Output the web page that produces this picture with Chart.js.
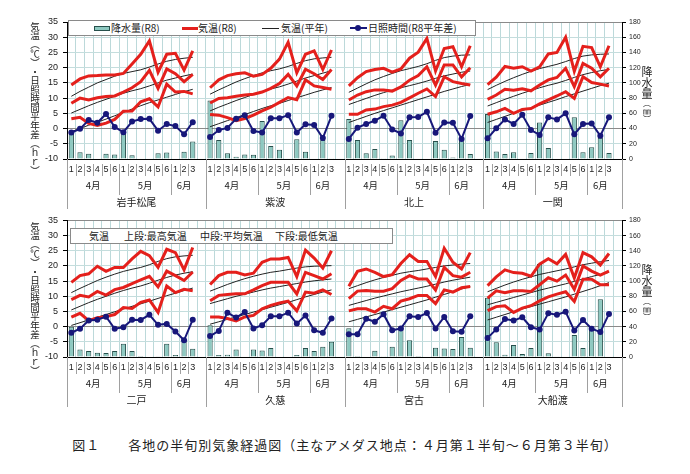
<!DOCTYPE html>
<html lang="ja">
<head>
<meta charset="utf-8">
<title>各地の半旬別気象経過図</title>
<script src="https://cdn.jsdelivr.net/npm/chart.js@4.4.1/dist/chart.umd.min.js"></script>
<style>
  html, body { margin: 0; padding: 0; background: #fff; }
  #page { position: relative; width: 690px; height: 474px; overflow: hidden;
          font-family: "Noto Sans CJK JP", sans-serif; color: #222; }
  canvas { position: absolute; left: 0; }
  .box { position: absolute; background: #fff; border: 1px solid #8a8a8a; box-sizing: border-box; }
  .lbl { position: absolute; font-size: 10px; line-height: 14px; white-space: nowrap; }
  .sw { position: absolute; }
  .vt { position: absolute; width: 14px; text-align: center; }
  .vt div { white-space: nowrap; overflow: visible; }
  #caption { position: absolute; left: 0; top: 436px; width: 690px; text-align: center;
             font-size: 13px; line-height: 18px; letter-spacing: 1px; }
</style>
</head>
<body>
<div id="page">
  <canvas id="row1" width="690" height="210" style="top:0"></canvas>
  <canvas id="row2" width="690" height="210" style="top:210px"></canvas>

  <!-- 凡例 -->
  <div class="box" style="left:68px; top:20px; width:408px; height:16px;"></div>
  <div class="sw" style="left:94px; top:26px; width:16px; height:5px; background:#8ec9c1; border:1px solid #27504c; box-sizing:border-box;"></div>
  <div class="lbl" style="left:111px; top:21px;">降水量(R8)</div>
  <div class="sw" style="left:182px; top:27px; width:16px; height:3px; background:#e4201c;"></div>
  <div class="lbl" style="left:198px; top:21px;">気温(R8)</div>
  <div class="sw" style="left:262px; top:28px; width:17px; height:1px; background:#222;"></div>
  <div class="lbl" style="left:281px; top:21px;">気温(平年)</div>
  <div class="sw" style="left:350px; top:27px; width:17px; height:2px; background:#17177a;"></div>
  <div class="sw" style="left:355px; top:25px; width:6px; height:6px; border-radius:50%; background:#17177a;"></div>
  <div class="lbl" style="left:368px; top:21px;">日照時間(R8平年差)</div>

  <div class="box" style="left:70px; top:228px; width:323px; height:16px;"></div>
  <div class="lbl" style="left:89px; top:229px;">気温</div>
  <div class="lbl" style="left:124px; top:229px;">上段:最高気温</div>
  <div class="lbl" style="left:200px; top:229px;">中段:平均気温</div>
  <div class="lbl" style="left:275px; top:229px;">下段:最低気温</div>

  <div id="caption">図１　　各地の半旬別気象経過図（主なアメダス地点：４月第１半旬～６月第３半旬）</div>
</div>

<script>
const stations = ['岩手松尾', '紫波', '北上', '一関', '二戸', '久慈', '宮古', '大船渡'];
const halfLabels = ['1', '2', '3', '4', '5', '6', '1', '2', '3', '4', '5', '6', '1', '2', '3'];
const months = ['4月', '5月', '6月'];
const monthLen = [6, 6, 3];
const tempTicks = [-10, 35, 5];
const rainTicks = [0, 180, 20];
const leftTitle = '気温︵℃︶・日照時間平年差︵ｈｒ︶';
const rightTitle = '降水量';
const rightUnit = '︵㎜︶';

// 降水量(R8) mm
const precip = [
  [37, 9, 7, 0, 7, 6, 36, 5, 0, 0, 7.5, 8.5, 0, 9.5, 23],
  [77, 25, 7.5, 3, 6, 5.5, 50, 17, 12, 0, 26, 9.6, 0, 25, 1],
  [52.5, 25, 7.5, 13, 1, 4.5, 51, 25, 0.5, 0, 23.5, 12, 2, 25, 6.5],
  [59, 10, 6.6, 9, 0, 8, 48, 14.5, 0, 0, 55, 9, 15.5, 28, 8],
  [40, 10, 7.8, 5.7, 5.2, 7.8, 17.5, 7.8, 1.3, 0, 0.4, 17.5, 2.6, 24, 11],
  [42, 2.5, 3, 10, 0, 10, 8.5, 12, 0, 0, 2.5, 12, 8, 13.5, 20],
  [38, 1.2, 0, 8.2, 0.3, 13.4, 37.4, 22, 1.2, 0, 12.1, 11.2, 10.4, 26.5, 12.1],
  [78, 19.5, 3, 15.8, 4, 12, 123, 5, 1, 0, 29, 12, 36, 76, 0]
];

// 気温(R8) 最高
const maxTemp = [
  [14.3, 16.3, 17.3, 17.4, 17.6, 17.6, 18.1, 21.2, 24.4, 28.8, 18.5, 24.4, 24.7, 19.2, 25.5],
  [13.4, 16.0, 17.4, 18.0, 18.3, 17.2, 17.8, 19.8, 22.8, 28.3, 18.3, 24.4, 25.5, 19.4, 25.8],
  [14.0, 16.7, 18.7, 19.4, 19.8, 18.5, 19.6, 23.1, 25.1, 29.6, 18.9, 26.3, 26.9, 20.3, 27.2],
  [14.4, 16.9, 20.4, 19.8, 20.3, 18.9, 20.3, 24.5, 25.0, 30.0, 18.8, 27.0, 26.6, 20.3, 27.2],
  [14.6, 16.8, 17.4, 19.9, 18.2, 19.5, 19.5, 22.3, 24.8, 23.4, 19.5, 25.5, 24.4, 18.7, 26.1],
  [13.9, 16.8, 17.9, 17.9, 17.0, 17.6, 21.2, 22.3, 22.3, 22.8, 16.5, 25.2, 22.6, 19.3, 25.0],
  [13.3, 18.2, 19.0, 17.9, 16.5, 17.1, 20.8, 23.7, 21.5, 21.5, 16.5, 25.8, 21.2, 19.0, 24.4],
  [13.5, 16.4, 18.7, 17.8, 17.6, 16.6, 20.6, 22.4, 20.7, 23.8, 16.0, 24.4, 23.0, 20.3, 24.1]
];

// 気温(R8) 平均
const meanTemp = [
  [8.3, 10.0, 9.4, 10.1, 10.5, 10.7, 12.0, 13.4, 15.4, 19.1, 13.2, 19.6, 18.0, 15.4, 17.8],
  [8.4, 9.9, 10.1, 10.6, 11.0, 11.3, 12.0, 13.2, 14.8, 17.8, 14.0, 19.5, 18.0, 16.1, 19.4],
  [9.4, 11.0, 12.1, 12.7, 12.7, 12.3, 13.7, 15.9, 17.4, 20.3, 14.3, 20.9, 20.9, 17.0, 20.0],
  [9.6, 11.0, 12.9, 12.6, 13.1, 12.4, 14.3, 16.0, 16.8, 19.8, 13.8, 21.4, 19.8, 17.0, 19.8],
  [8.9, 10.3, 9.8, 11.6, 10.4, 12.2, 12.9, 14.2, 15.4, 16.6, 13.1, 18.3, 16.8, 15.2, 18.0],
  [8.5, 10.3, 10.6, 10.8, 10.8, 12.1, 13.5, 14.6, 14.6, 14.6, 10.8, 17.9, 16.8, 15.7, 17.4],
  [9.2, 11.7, 11.9, 11.7, 11.7, 12.5, 15.2, 16.8, 15.7, 15.7, 12.1, 19.5, 16.8, 16.3, 17.9],
  [9.4, 11.8, 11.2, 11.8, 11.8, 11.6, 13.8, 16.1, 15.0, 17.0, 12.3, 20.0, 18.3, 17.0, 18.3]
];

// 気温(R8) 最低
const minTemp = [
  [3.2, 3.7, 1.7, 1.0, 1.8, 3.0, 5.7, 5.8, 8.8, 9.8, 7.1, 14.6, 12.0, 12.2, 11.4],
  [4.6, 4.4, 3.6, 2.6, 3.3, 4.4, 5.8, 7.0, 8.6, 10.2, 9.5, 16.0, 14.0, 13.5, 12.9],
  [4.7, 4.7, 6.1, 6.4, 7.2, 7.7, 8.6, 10.1, 11.6, 13.0, 10.5, 17.0, 15.4, 14.8, 14.3],
  [4.7, 5.5, 6.6, 5.0, 6.3, 6.6, 8.1, 9.4, 10.7, 12.1, 9.9, 17.0, 15.1, 14.6, 14.0],
  [3.1, 4.4, 2.0, 2.9, 3.3, 4.0, 6.3, 6.0, 8.0, 8.8, 4.7, 13.4, 11.2, 12.3, 11.8],
  [3.2, 3.2, 2.7, 1.9, 3.2, 3.7, 5.9, 7.0, 7.8, 8.4, 5.2, 11.4, 11.0, 12.1, 10.6],
  [5.2, 5.9, 5.9, 4.8, 6.7, 5.9, 8.4, 9.2, 10.3, 10.3, 7.6, 12.1, 11.4, 12.8, 13.2],
  [5.3, 6.6, 6.9, 4.7, 6.1, 6.9, 8.5, 9.8, 10.7, 11.5, 8.3, 15.6, 15.6, 13.8, 13.8]
];

// 気温(平年) 最高・平均・最低
const normMax = [
  [10.6, 12.2, 13.6, 15.0, 16.1, 17.2, 18.1, 18.7, 19.3, 20.2, 21.2, 22.1, 22.7, 23.1, 23.4],
  [11.3, 12.7, 14.0, 15.3, 16.4, 17.4, 18.3, 19.0, 19.6, 20.4, 21.4, 22.3, 22.9, 23.2, 23.4],
  [11.9, 13.3, 14.7, 16.0, 17.1, 18.1, 19.0, 19.7, 20.4, 21.3, 22.4, 23.3, 23.8, 24.1, 24.2],
  [12.8, 14.2, 15.5, 16.7, 17.8, 18.8, 19.7, 20.4, 21.1, 22.0, 23.0, 23.8, 24.2, 24.4, 24.5],
  [11.2, 12.6, 13.9, 15.2, 16.3, 17.3, 18.2, 18.9, 19.5, 20.4, 21.5, 22.4, 23.0, 23.3, 23.5],
  [11.7, 12.8, 13.9, 14.9, 15.8, 16.6, 17.3, 17.9, 18.3, 18.8, 19.3, 19.7, 19.9, 20.0, 20.1],
  [12.5, 13.5, 14.5, 15.4, 16.2, 16.9, 17.6, 18.1, 18.5, 19.0, 19.5, 20.0, 20.3, 20.6, 20.8],
  [11.5, 12.6, 13.7, 14.7, 15.6, 16.4, 17.2, 17.8, 18.4, 19.0, 19.7, 20.4, 20.9, 21.4, 21.8]
];
const normMean = [
  [5.1, 6.3, 7.5, 8.6, 9.6, 10.6, 11.6, 12.4, 13.1, 14.0, 15.0, 15.9, 16.6, 17.3, 17.9],
  [5.8, 7.0, 8.1, 9.2, 10.2, 11.2, 12.2, 13.0, 13.7, 14.6, 15.6, 16.6, 17.4, 18.2, 19.0],
  [7.9, 8.9, 9.9, 10.9, 11.8, 12.6, 13.4, 14.1, 14.8, 15.6, 16.5, 17.3, 17.9, 18.5, 18.9],
  [7.4, 8.5, 9.6, 10.6, 11.6, 12.5, 13.4, 14.2, 14.9, 15.8, 16.8, 17.7, 18.4, 19.0, 19.4],
  [5.5, 6.7, 7.9, 9.0, 10.0, 11.0, 11.9, 12.7, 13.4, 14.3, 15.3, 16.2, 17.0, 17.6, 18.1],
  [7.6, 8.4, 9.2, 10.0, 10.7, 11.4, 12.1, 12.7, 13.2, 13.7, 14.2, 14.7, 15.1, 15.4, 15.7],
  [7.0, 7.8, 8.6, 9.4, 10.1, 10.8, 11.5, 12.1, 12.7, 13.3, 14.0, 14.7, 15.3, 15.8, 16.3],
  [7.2, 8.0, 8.8, 9.6, 10.4, 11.2, 12.0, 12.7, 13.4, 14.1, 14.9, 15.7, 16.5, 17.2, 17.9]
];
const normMin = [
  [-1.0, 0.0, 1.1, 2.1, 3.1, 4.2, 5.3, 6.4, 7.5, 8.5, 9.4, 10.3, 11.2, 12.1, 12.9],
  [0.6, 1.6, 2.6, 3.6, 4.6, 5.6, 6.6, 7.5, 8.3, 9.2, 10.1, 11.0, 11.9, 12.7, 13.5],
  [2.0, 3.0, 4.0, 5.0, 5.9, 6.8, 7.7, 8.6, 9.5, 10.4, 11.3, 12.2, 13.0, 13.8, 14.5],
  [2.0, 3.0, 4.0, 5.0, 5.9, 6.8, 7.7, 8.6, 9.5, 10.5, 11.4, 12.3, 13.2, 14.1, 14.9],
  [0.4, 1.3, 2.2, 3.1, 4.0, 4.9, 5.8, 6.7, 7.5, 8.4, 9.3, 10.2, 11.0, 11.9, 12.7],
  [0.8, 1.6, 2.4, 3.2, 4.0, 4.8, 5.6, 6.4, 7.2, 8.0, 8.9, 9.8, 10.6, 11.4, 12.1],
  [1.6, 2.4, 3.2, 4.0, 4.8, 5.6, 6.4, 7.2, 8.0, 8.8, 9.7, 10.6, 11.5, 12.4, 13.2],
  [2.2, 3.1, 4.0, 4.9, 5.8, 6.6, 7.4, 8.2, 9.0, 9.8, 10.7, 11.6, 12.5, 13.5, 14.5]
];

// 日照時間(R8平年差) hr
const sunDiff = [
  [-1.3, -0.1, 2.8, 1.9, 4.8, 0.5, -1.2, 2.3, 3.1, 3.2, -0.7, 1.5, 0.8, -1.9, 2.1],
  [-2.8, -0.5, 0.2, 3.2, 4.4, -0.8, -1.3, 3.4, 3.4, 4.4, -1.3, 1.4, 1.2, -3.1, 4.2],
  [-3.4, 0.3, 1.5, 2.6, 4.2, -0.3, -1.6, 3.7, 3.8, 5.5, -1.4, 2.0, 1.9, -3.4, 4.1],
  [-3.2, 0.1, 3.0, 1.5, 4.5, -0.5, -2.1, 3.7, 3.0, 5.0, -1.9, 1.5, 1.7, -2.4, 3.7],
  [-2.0, -0.7, 2.0, 2.3, 3.3, -0.7, -0.2, 2.3, 2.2, 3.9, 0.6, 0.9, -1.6, -4.5, 2.3],
  [-3.1, -1.4, 4.6, 3.0, 4.8, -0.6, 0.5, 3.4, 3.4, 4.6, 1.0, 3.7, -1.2, -2.0, 2.7],
  [-2.5, -2.5, 2.6, 1.6, 4.1, -1.2, -0.6, 3.4, 3.2, 4.5, -0.6, 3.2, -1.5, -1.7, 3.4],
  [-3.7, -0.9, 2.5, 2.0, 3.1, -0.2, -0.9, 4.4, 3.9, 4.9, -1.3, 2.2, -0.7, -1.8, 4.2]
];

const perStation = halfLabels.length + 1;   // 15半旬 + 空き1列
const FONT = '"Noto Sans CJK JP", sans-serif';
const page = document.getElementById('page');

// 縦書きの軸タイトル（1文字ずつ積む）
function verticalTitle(parts, left, top) {
  const el = document.createElement('div');
  el.className = 'vt';
  el.style.left = left + 'px';
  el.style.top = top + 'px';
  parts.forEach(([text, size, pitch]) => {
    [...text].forEach(ch => {
      const d = document.createElement('div');
      d.textContent = ch;
      d.style.fontSize = size + 'px';
      d.style.lineHeight = pitch + 'px';
      d.style.height = pitch + 'px';
      el.appendChild(d);
    });
  });
  page.appendChild(el);
}

// 4地点を1行に並べる（地点の間はnullで線を切る）
function rowData(series, idx, zeroAsNull) {
  const out = [];
  idx.forEach(s => {
    series[s].forEach(v => out.push(zeroAsNull && v === 0 ? null : v));
    out.push(null);
  });
  return out;
}

// 軸下の表（半旬・月・地点名）
const axisTable = {
  id: 'axisTable',
  afterDraw(chart, args, opts) {
    const { ctx, chartArea } = chart;
    const x = chart.scales.x;
    const step = (chartArea.right - chartArea.left) / x.getLabels().length;
    const top = chartArea.bottom;
    const px = v => Math.round(v) + 0.5;
    ctx.save();
    ctx.strokeStyle = '#a0a0a0';
    ctx.lineWidth = 1;
    ctx.fillStyle = '#222';
    ctx.textAlign = 'center';
    ctx.textBaseline = 'middle';
    const line = (xx, y1, y2) => {
      ctx.beginPath(); ctx.moveTo(px(xx), y1); ctx.lineTo(px(xx), y2); ctx.stroke();
    };
    opts.names.forEach((name, s) => {
      const base = s * perStation;
      const left = chartArea.left + base * step;
      line(left, top, top + 50);
      ctx.font = '9px "Liberation Sans", sans-serif';
      halfLabels.forEach((h, j) => {
        ctx.fillText(h, x.getPixelForValue(base + j), top + 11);
        if (j > 0 && j !== 6 && j !== 12) line(left + j * step, top + 5, top + 17);
      });
      ctx.font = '9.5px ' + FONT;
      let start = 0;
      months.forEach((m, i) => {
        if (start > 0) line(left + start * step, top + 5, top + 36);
        ctx.fillText(m, left + (start + monthLen[i] / 2) * step, top + 26);
        start += monthLen[i];
      });
      ctx.font = '10px ' + FONT;
      ctx.fillText(name, left + (perStation / 2) * step, top + 43);
    });
    line(chartArea.right, top, top + 50);
    ctx.restore();
  }
};

function makeRow(canvasId, r, padTop, bottomH) {
  const idx = [0, 1, 2, 3].map(i => r * 4 + i);
  const names = idx.map(i => stations[i]);
  const labels = rowData(idx.map(() => halfLabels), [0, 1, 2, 3], false).map(v => v || '');
  const red = data => ({ type: 'line', data, borderColor: '#e4201c', borderWidth: 3,
                         pointRadius: 0, order: 3, yAxisID: 'y' });
  const black = data => ({ type: 'line', data, borderColor: '#222', borderWidth: 1,
                           pointRadius: 0, order: 5, yAxisID: 'y' });
  new Chart(document.getElementById(canvasId), {
    type: 'bar',
    data: {
      labels,
      datasets: [
        { type: 'bar', label: '降水量(R8)', data: rowData(precip, idx, true), yAxisID: 'y1',
          backgroundColor: '#8ec9c1', borderColor: '#27504c', borderWidth: 1,
          barPercentage: 0.6, categoryPercentage: 1, order: 10 },
        red(rowData(maxTemp, idx)), red(rowData(meanTemp, idx)), red(rowData(minTemp, idx)),
        black(rowData(normMax, idx)), black(rowData(normMean, idx)), black(rowData(normMin, idx)),
        { type: 'line', label: '日照時間(R8平年差)', data: rowData(sunDiff, idx), yAxisID: 'y',
          borderColor: '#17177a', backgroundColor: '#17177a', borderWidth: 2,
          pointRadius: 3, pointBorderWidth: 0, order: 1 }
      ]
    },
    options: {
      responsive: false,
      animation: false,
      layout: { padding: { top: padTop, left: 0, right: 0, bottom: 0 } },
      plugins: { legend: { display: false }, tooltip: { enabled: false }, axisTable: { names } },
      scales: {
        x: {
          offset: true,
          ticks: { display: false },
          grid: { offset: true, color: '#bcd9da', drawTicks: false },
          border: { display: true, color: '#000' },
          afterFit: s => { s.height = bottomH; }
        },
        y: {
          position: 'left',
          min: tempTicks[0], max: tempTicks[1],
          ticks: { stepSize: tempTicks[2], padding: 5, color: '#222',
                   font: { size: 9, family: '"Liberation Sans", sans-serif' } },
          grid: {
            color: c => (c.tick && (c.tick.value === 0 || c.tick.value === 35)) ? '#8a8a8a' : '#c4dddd',
            tickColor: '#000', tickLength: 4
          },
          border: { display: true, color: '#000' },
          afterFit: s => { s.width = 67; }
        },
        y1: {
          position: 'right',
          min: rainTicks[0], max: rainTicks[1],
          ticks: { stepSize: rainTicks[2], padding: 3, color: '#222',
                   font: { size: 7, family: '"Liberation Sans", sans-serif' } },
          grid: { drawOnChartArea: false, tickColor: '#000', tickLength: 4 },
          border: { display: true, color: '#000' },
          afterFit: s => { s.width = 68; }
        }
      }
    },
    plugins: [axisTable]
  });
}

makeRow('row1', 0, 22, 51);
makeRow('row2', 1, 9, 63);

verticalTitle([[leftTitle, 9.5, 9]], 28, 22);
verticalTitle([[leftTitle, 9.5, 9]], 28, 222);
verticalTitle([[rightTitle, 11, 11], [rightUnit, 8, 8]], 640, 66);
verticalTitle([[rightTitle, 11, 11], [rightUnit, 8, 8]], 640, 264);
</script>
</body>
</html>
